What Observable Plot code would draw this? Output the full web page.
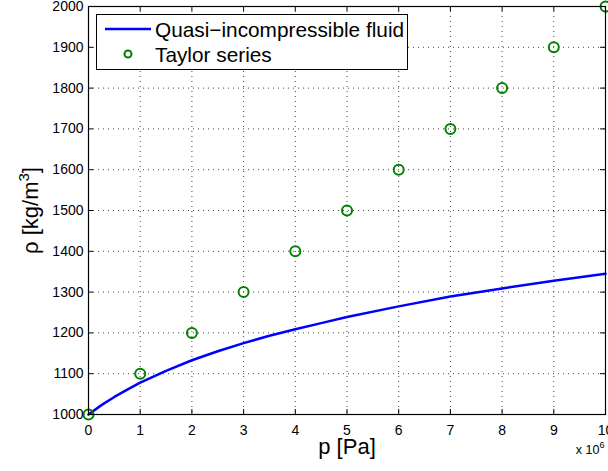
<!DOCTYPE html>
<html>
<head>
<meta charset="utf-8">
<script src="https://cdn.jsdelivr.net/npm/d3@7"></script>
<script src="https://cdn.jsdelivr.net/npm/@observablehq/plot@0.6"></script>
<style>
  html, body { margin: 0; padding: 0; background: #fff; }
</style>
</head>
<body>
<script>
// Data (pressure in units of 1e6 Pa)
const xTicks = [0, 1, 2, 3, 4, 5, 6, 7, 8, 9, 10];
const yTicks = [1000, 1100, 1200, 1300, 1400, 1500, 1600, 1700, 1800, 1900, 2000];

const fluidP   = [0, 0.25, 0.5, 0.75, 1, 1.5, 2, 2.5, 3, 3.5, 4, 4.5, 5, 6, 7, 8, 9, 10];
const fluidRho = [1000, 1023, 1043, 1061, 1078, 1107, 1133, 1155, 1175, 1193, 1209, 1224, 1239, 1265, 1289, 1309, 1328, 1345];

const taylorP   = [0, 1, 2, 3, 4, 5, 6, 7, 8, 9, 10];
const taylorRho = [1000, 1100, 1200, 1300, 1400, 1500, 1600, 1700, 1800, 1900, 2000];

const seriesNames = ["Quasi\u2212incompressible fluid", "Taylor series"];
const xLabel = "p [Pa]";
const FONT = "'Liberation Sans', Arial, Helvetica, sans-serif";

const fluid = fluidP.map((p, i) => ({p, rho: fluidRho[i]}));
const taylor = taylorP.map((p, i) => ({p, rho: taylorRho[i]}));

const W = 608, H = 471, mL = 88, mR = 3, mT = 6, mB = 57;
const pw = W - mL - mR, ph = H - mT - mB;

const chart = Plot.plot({
  width: W, height: H,
  marginLeft: mL, marginRight: mR, marginTop: mT, marginBottom: mB,
  x: {domain: [0, 10]},
  y: {domain: [1000, 2000]},
  style: {fontFamily: FONT, fontSize: "14px", background: "white", overflow: "visible", color: "black"},
  marks: [
    Plot.gridX(xTicks, {stroke: "#222", strokeOpacity: 0.85, strokeDasharray: "1,4"}),
    Plot.gridY(yTicks, {stroke: "#222", strokeOpacity: 0.85, strokeDasharray: "1,4"}),
    Plot.line(fluid, {x: "p", y: "rho", stroke: "#0000ff", strokeWidth: 2.5}),
    Plot.dot(taylor, {x: "p", y: "rho", r: 5, stroke: "#008000", strokeWidth: 2, fill: "none"}),
    Plot.frame({stroke: "black", strokeWidth: 1.2}),
    Plot.tickX(xTicks, {x: d => d, insetTop: ph - 5, stroke: "black"}),
    Plot.tickX(xTicks, {x: d => d, insetBottom: ph - 5, stroke: "black"}),
    Plot.tickY(yTicks, {y: d => d, insetRight: pw - 5, stroke: "black"}),
    Plot.tickY(yTicks, {y: d => d, insetLeft: pw - 5, stroke: "black"}),
    Plot.axisX(xTicks, {tickSize: 0, tickPadding: 11, label: null, fontSize: 14, tickFormat: d => String(d)}),
    Plot.axisY(yTicks, {tickSize: 0, tickPadding: 5, label: null, fontSize: 14, tickFormat: d => String(d)}),
    Plot.text([xLabel], {text: d => d, frameAnchor: "bottom", textAnchor: "middle", lineAnchor: "bottom", dy: 39, fontSize: 22}),
    Plot.text(["YLABEL"], {text: d => d, frameAnchor: "left", textAnchor: "middle", lineAnchor: "middle", rotate: -90, dx: -58, fontSize: 22}),
    Plot.text(["XEXP"], {text: d => d, frameAnchor: "bottom-right", textAnchor: "end", lineAnchor: "bottom", dx: -1, dy: 39, fontSize: 12.5})
  ]
});

const svg = d3.select(chart);
const findText = s => svg.selectAll("text").filter(function() { return this.textContent === s; });

// y label with superscript
const yl = findText("YLABEL");
yl.text(null);
yl.append("tspan").text("\u03c1 [kg/m");
yl.append("tspan").attr("dy", -9).attr("font-size", 15).text("3");
yl.append("tspan").attr("dy", 9).text("]");

// exponent
const xe = findText("XEXP");
xe.text(null);
xe.append("tspan").text("x 10");
xe.append("tspan").attr("dy", -6).attr("font-size", 9).text("6");

// legend
const lg = svg.append("g").attr("font-family", FONT).attr("font-size", 20.8).attr("text-anchor", "start");
lg.append("rect").attr("x", 96.5).attr("y", 14.5).attr("width", 311).attr("height", 55)
  .attr("fill", "white").attr("stroke", "black").attr("stroke-width", 1);
lg.append("line").attr("x1", 105).attr("x2", 151).attr("y1", 29).attr("y2", 29)
  .attr("stroke", "#0000ff").attr("stroke-width", 2.5);
lg.append("circle").attr("cx", 128).attr("cy", 54).attr("r", 3.5)
  .attr("fill", "none").attr("stroke", "#008000").attr("stroke-width", 2);
lg.append("text").attr("x", 155).attr("y", 36.5).attr("text-anchor", "start").text(seriesNames[0]);
lg.append("text").attr("x", 155).attr("y", 61.5).attr("text-anchor", "start").text(seriesNames[1]);

document.body.append(chart);
</script>
</body>
</html>
